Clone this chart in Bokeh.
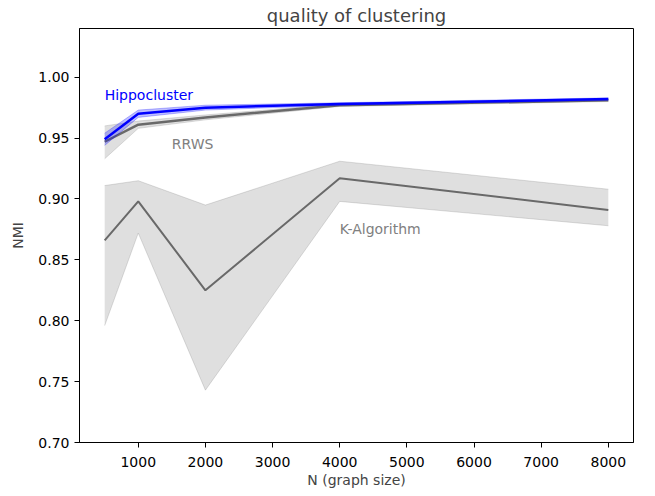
from bokeh.plotting import figure
from bokeh.models import Range1d, FixedTicker, Label
from bokeh.embed import file_html
from bokeh.resources import INLINE

N = [500, 1000, 2000, 4000, 8000]
hippo_mean = [0.949, 0.970, 0.975, 0.978, 0.982]
hippo_lo = [0.944, 0.967, 0.973, 0.977, 0.981]
hippo_hi = [0.954, 0.973, 0.977, 0.979, 0.983]
rrws_mean = [0.947, 0.961, 0.967, 0.977, 0.981]
rrws_lo = [0.933, 0.958, 0.965, 0.976, 0.980]
rrws_hi = [0.960, 0.964, 0.969, 0.978, 0.982]
k_mean = [0.866, 0.898, 0.825, 0.917, 0.891]
k_lo = [0.796, 0.872, 0.743, 0.898, 0.878]
k_hi = [0.911, 0.915, 0.895, 0.931, 0.908]

x_ticks = [1000, 2000, 3000, 4000, 5000, 6000, 7000, 8000]
y_ticks = [0.70, 0.75, 0.80, 0.85, 0.90, 0.95, 1.00]

FONT = "DejaVu Sans"
X_MIN, X_MAX = 125, 8375
Y_MIN, Y_MAX = 0.70, 1.04

p = figure(frame_width=554, frame_height=414, output_backend="svg", toolbar_location=None,
           x_range=Range1d(X_MIN, X_MAX), y_range=Range1d(Y_MIN, Y_MAX),
           title="quality of clustering",
           min_border_left=79, min_border_right=14,
           min_border_top=28, min_border_bottom=50)

p.title.align = "center"
p.title.text_font = FONT
p.title.text_font_size = "18px"
p.title.text_font_style = "normal"
p.title.standoff = 5
p.title.offset = 0

p.xgrid.visible = False
p.ygrid.visible = False
p.outline_line_color = "black"
p.outline_line_width = 1
p.outline_line_alpha = 1

for ax in (p.xaxis[0], p.yaxis[0]):
    ax.major_label_text_font = FONT
    ax.major_label_text_font_size = "14px"
    ax.major_label_text_color = "black"
    ax.axis_label_text_font = FONT
    ax.axis_label_text_font_size = "14px"
    ax.axis_label_text_font_style = "normal"
    ax.major_tick_out = 5
    ax.major_tick_in = 0
    ax.minor_tick_out = 0
    ax.minor_tick_in = 0
    ax.axis_line_color = "black"
    ax.major_tick_line_color = "black"

p.xaxis.major_label_standoff = 9
p.xaxis.axis_label_standoff = 2
p.yaxis.major_label_standoff = 5
p.yaxis.axis_label_standoff = 9

p.xaxis.ticker = FixedTicker(ticks=x_ticks)
p.yaxis.ticker = FixedTicker(ticks=y_ticks)
p.yaxis.major_label_overrides = {t: f"{t:.2f}" for t in y_ticks}
p.xaxis.axis_label = "N (graph size)"
p.yaxis.axis_label = "NMI"

# K-Algorithm band and line
p.varea(x=N, y1=k_lo, y2=k_hi, fill_color="#808080", fill_alpha=0.25)
p.line(N, k_lo, line_color="#808080", line_alpha=0.25, line_width=1)
p.line(N, k_hi, line_color="#808080", line_alpha=0.25, line_width=1)
p.line(N, k_mean, line_color="#696969", line_width=2)

# RRWS
p.varea(x=N, y1=rrws_lo, y2=rrws_hi, fill_color="#808080", fill_alpha=0.25)
p.line(N, rrws_lo, line_color="#808080", line_alpha=0.25, line_width=1)
p.line(N, rrws_hi, line_color="#808080", line_alpha=0.25, line_width=1)
p.line(N, rrws_mean, line_color="#696969", line_width=2.5)

# Hippocluster
p.varea(x=N, y1=hippo_lo, y2=hippo_hi, fill_color="blue", fill_alpha=0.25)
p.line(N, hippo_lo, line_color="blue", line_alpha=0.25, line_width=1)
p.line(N, hippo_hi, line_color="blue", line_alpha=0.25, line_width=1)
p.line(N, hippo_mean, line_color="blue", line_width=2.5)

p.add_layout(Label(x=500, y=0.985, text="Hippocluster", text_color="blue",
                   text_font=FONT, text_font_size="14px", text_baseline="alphabetic"))
p.add_layout(Label(x=1500, y=0.945, text="RRWS", text_color="#808080",
                   text_font=FONT, text_font_size="14px", text_baseline="alphabetic"))
p.add_layout(Label(x=4000, y=0.875, text="K-Algorithm", text_color="#808080",
                   text_font=FONT, text_font_size="14px", text_baseline="alphabetic"))

open("out.html", "w").write(file_html(p, INLINE))
